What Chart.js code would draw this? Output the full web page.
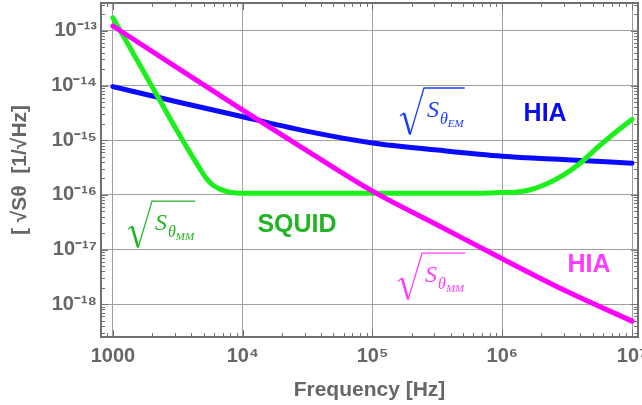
<!DOCTYPE html>
<html>
<head>
<meta charset="utf-8">
<script src="https://cdn.jsdelivr.net/npm/chart.js@4.4.0/dist/chart.umd.min.js"></script>
<style>
  html, body { margin: 0; padding: 0; background: #fff; overflow: hidden; }
  #wrap { width: 642px; height: 405px; }
</style>
</head>
<body>
<div id="wrap"><canvas id="chart"></canvas></div>
<script>
// axis ticks
const xTicks = [1e3, 1e4, 1e5, 1e6, 1e7];
const xTickLabels = ["1000", "10\u2074", "10\u2075", "10\u2076", "10\u2077"];
const yTicks = [1e-18, 1e-17, 1e-16, 1e-15, 1e-14, 1e-13];
const yTickLabels = [
  "10\u207B\u00B9\u2078",
  "10\u207B\u00B9\u2077",
  "10\u207B\u00B9\u2076",
  "10\u207B\u00B9\u2075",
  "10\u207B\u00B9\u2074",
  "10\u207B\u00B9\u00B3",
];

// HIA curves
const hiaFreq = [1000, 3162, 1e4, 31620, 1e5, 316200, 1e6, 3162000, 1e7];
const hiaMM = [1.23e-13, 2.09e-14, 3.55e-15, 6.31e-16, 1.17e-16, 2.82e-17, 6.76e-18, 1.7e-18, 4.9e-19];
const hiaEM = [9.55e-15, 5.01e-15, 2.69e-15, 1.45e-15, 8.9e-16, 6.6e-16, 5.1e-16, 4.4e-16, 3.8e-16];

// SQUID curve
const squidFreq = [1000, 1778, 3162, 3981, 4677, 5248, 5888, 6761, 7943, 1e4, 1e5, 6.76e5, 1e6,
  1.259e6, 1.622e6, 2.188e6, 2.951e6, 3.981e6, 5.37e6, 7.079e6, 1e7];
const squidMM = [1.74e-13, 1.58e-14, 1.41e-15, 5.62e-16, 3.02e-16, 2.0e-16, 1.51e-16, 1.26e-16,
  1.12e-16, 1.07e-16, 1.07e-16, 1.07e-16, 1.1e-16, 1.12e-16, 1.23e-16, 1.58e-16, 2.29e-16,
  3.8e-16, 7.24e-16, 1.26e-15, 2.4e-15];

// text labels inside the plot (anchored in data coordinates)
const plainLabels = [
  { text: "HIA", f: 2.14e6, v: 3.0e-15, color: "#0a0af0" },
  { text: "SQUID", f: 2.62e4, v: 2.8e-17, color: "#22b422" },
  { text: "HIA", f: 4.66e6, v: 5.2e-18, color: "#ff3cff" },
];
const rootLabels = [
  { sub: "EM", f: 2.63e5, v: 2.66e-15, color: "#1a3cff" },
  { sub: "MM", f: 2109, v: 2.26e-17, color: "#22b422" },
  { sub: "MM", f: 2.54e5, v: 2.53e-18, color: "#ff3cff" },
];

const grey = "#666";

function pts(xs, ys) {
  return xs.map((x, i) => ({ x: x, y: ys[i] }));
}

const framePlugin = {
  id: "frame",
  afterDatasetsDraw(chart) {
    const ctx = chart.ctx;
    const a = chart.chartArea;
    const x = chart.scales.x;
    const y = chart.scales.y;
    ctx.save();
    ctx.strokeStyle = "#707070";
    ctx.lineWidth = 1;
    ctx.beginPath();
    for (let e = 2; e <= 7; e++) {
      for (let m = 1; m < 10; m++) {
        const v = m * Math.pow(10, e);
        if (v < x.min || v > x.max) continue;
        const px = Math.round(x.getPixelForValue(v)) + 0.5;
        const len = m === 1 ? 7 : 4;
        ctx.moveTo(px, a.bottom); ctx.lineTo(px, a.bottom - len);
        ctx.moveTo(px, a.top); ctx.lineTo(px, a.top + len);
      }
    }
    for (let e = -19; e <= -13; e++) {
      for (let m = 1; m < 10; m++) {
        const v = m * Math.pow(10, e);
        if (v < y.min || v > y.max) continue;
        const py = Math.round(y.getPixelForValue(v)) + 0.5;
        const len = m === 1 ? 7 : 4;
        ctx.moveTo(a.left, py); ctx.lineTo(a.left + len, py);
        ctx.moveTo(a.right, py); ctx.lineTo(a.right - len, py);
      }
    }
    ctx.stroke();
    ctx.lineWidth = 2;
    ctx.strokeRect(a.left, a.top, a.right - a.left, a.bottom - a.top);
    ctx.restore();
  },
  afterDraw(chart) {
    const ctx = chart.ctx;
    const x = chart.scales.x;
    const y = chart.scales.y;
    ctx.save();
    ctx.textBaseline = "middle";
    ctx.textAlign = "center";
    ctx.font = "bold 25px 'Liberation Sans', Arial, sans-serif";
    plainLabels.forEach((l) => {
      ctx.fillStyle = l.color;
      ctx.fillText(l.text, x.getPixelForValue(l.f), y.getPixelForValue(l.v));
    });
    ctx.textAlign = "left";
    ctx.textBaseline = "alphabetic";
    rootLabels.forEach((l) => {
      const px = x.getPixelForValue(l.f);
      const py = y.getPixelForValue(l.v);
      ctx.fillStyle = l.color;
      ctx.strokeStyle = l.color;
      ctx.font = "italic 24px 'Liberation Serif', serif";
      ctx.fillText("S", px, py);
      let cx = px + ctx.measureText("S").width + 1;
      ctx.font = "italic 16px 'Liberation Serif', serif";
      ctx.fillText("\u03B8", cx, py + 7);
      cx += ctx.measureText("\u03B8").width;
      ctx.font = "italic 11px 'Liberation Serif', serif";
      ctx.fillText(l.sub, cx, py + 10);
      cx += ctx.measureText(l.sub).width + 1;
      // radical sign
      ctx.lineJoin = "miter";
      ctx.lineWidth = 1.3;
      ctx.beginPath();
      ctx.moveTo(px - 27, py - 1);
      ctx.lineTo(px - 23, py - 4);
      ctx.stroke();
      ctx.lineWidth = 2.6;
      ctx.beginPath();
      ctx.moveTo(px - 23, py - 4);
      ctx.lineTo(px - 17, py + 17);
      ctx.stroke();
      ctx.lineWidth = 1.3;
      ctx.beginPath();
      ctx.moveTo(px - 17, py + 18);
      ctx.lineTo(px - 3, py - 29);
      ctx.lineTo(cx, py - 29);
      ctx.stroke();
    });
    ctx.restore();
  },
};

const tickFont = { family: "'Liberation Sans', Arial, sans-serif", size: 20, weight: "bold" };
const titleFont = { family: "'Liberation Sans', Arial, sans-serif", size: 21, weight: "bold" };

new Chart(document.getElementById("chart"), {
  type: "line",
  data: {
    datasets: [
      {
        label: "HIA MM",
        data: pts(hiaFreq, hiaMM),
        borderColor: "#ff00ff",
      },
      {
        label: "SQUID MM",
        data: pts(squidFreq, squidMM),
        borderColor: "#1cf01c",
      },
      {
        label: "HIA EM",
        data: pts(hiaFreq, hiaEM),
        borderColor: "#0a0aff",
      },
    ],
  },
  options: {
    responsive: true,
    maintainAspectRatio: false,
    animation: false,
    devicePixelRatio: 1,
    events: [],
    layout: { padding: { top: 3, right: 4, bottom: 0, left: 0 } },
    elements: {
      point: { radius: 0 },
      line: { borderWidth: 5, cubicInterpolationMode: "monotone", borderCapStyle: "round", fill: false },
    },
    plugins: { legend: { display: false }, tooltip: { enabled: false } },
    scales: {
      x: {
        type: "logarithmic",
        min: 809,
        max: 1.112e7,
        afterBuildTicks(scale) {
          scale.ticks = xTicks.map((v) => ({ value: v }));
        },
        afterFit(scale) {
          scale.paddingLeft = 0;
          scale.paddingRight = 0;
          scale.height = 68;
        },
        ticks: {
          autoSkip: false,
          maxRotation: 0,
          padding: 7,
          color: grey,
          font: tickFont,
          callback: (v, i) => xTickLabels[i],
        },
        grid: { color: "#a0a0a0", lineWidth: 1, drawTicks: false },
        border: { display: false },
        title: { display: true, text: "Frequency [Hz]", color: grey, font: titleFont, padding: { top: 0, bottom: 2 } },
      },
      y: {
        type: "logarithmic",
        min: 2.51e-19,
        max: 3.24e-13,
        afterBuildTicks(scale) {
          scale.ticks = yTicks.map((v) => ({ value: v }));
        },
        afterFit(scale) {
          scale.paddingTop = 0;
          scale.paddingBottom = 0;
          scale.width = 101;
        },
        ticks: {
          autoSkip: false,
          padding: 4,
          color: grey,
          font: tickFont,
          callback: (v, i) => yTickLabels[i],
        },
        grid: { color: "#a0a0a0", lineWidth: 1, drawTicks: false },
        border: { display: false },
        title: {
          display: true,
          text: "[ \u221AS\u03B8  [1/\u221AHz]",
          color: grey,
          font: titleFont,
          padding: { top: 8, bottom: 0 },
        },
      },
    },
  },
  plugins: [framePlugin],
});
</script>
</body>
</html>
